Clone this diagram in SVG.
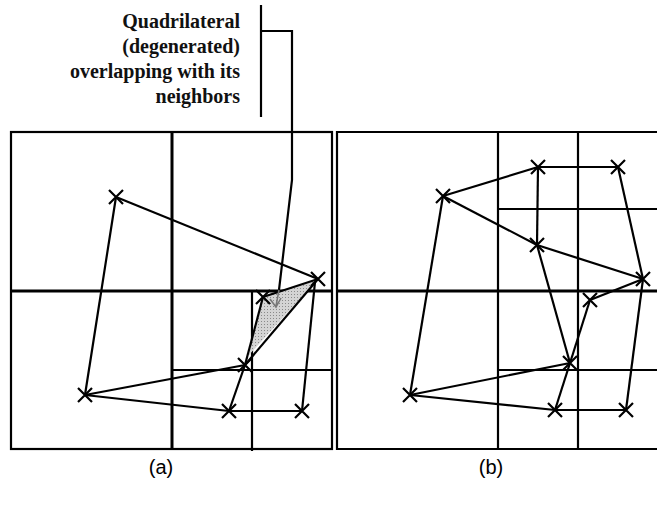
<svg xmlns="http://www.w3.org/2000/svg" width="657" height="507" viewBox="0 0 657 507">
<style>
.grid{fill:none;stroke:#000;stroke-width:2.2}
.thick{fill:none;stroke:#000;stroke-width:3}
.edge{fill:none;stroke:#000;stroke-width:2.2}
.mk{fill:none;stroke:#000;stroke-width:2.2}
.note{font-family:"Liberation Serif","Times New Roman",serif;font-weight:bold;font-size:20px;fill:#111;text-anchor:end}
.cap{font-family:"Liberation Sans",Arial,sans-serif;font-size:20px;fill:#000;text-anchor:middle}
</style>
<defs>
<path id="x" d="M-7,-7L7,7M-7,7L7,-7" class="mk"/>
<pattern id="dots" width="3" height="3" patternUnits="userSpaceOnUse">
<rect width="3" height="3" fill="#d4d4d4"/>
<rect width="1" height="1" fill="#8a8a8a"/>
</pattern>
</defs>
<rect width="657" height="507" fill="#fff"/>

<g id="panel-a-grid">
<rect x="11" y="132" width="321" height="317" class="grid"/>
<line x1="172" y1="132" x2="172" y2="449" class="thick"/>
<line x1="11" y1="291" x2="332" y2="291" class="thick"/>
<line x1="252" y1="291" x2="252" y2="451" class="grid"/>
<line x1="172" y1="370" x2="333" y2="370" class="grid"/>
</g>

<g id="panel-b-grid">
<path d="M657,132H337V449H657" class="grid"/>
<line x1="498" y1="132" x2="498" y2="449" class="grid"/>
<line x1="578" y1="132" x2="578" y2="449" class="grid"/>
<line x1="337" y1="291" x2="657" y2="291" class="thick"/>
<line x1="498" y1="209" x2="657" y2="209" class="grid"/>
<line x1="498" y1="370" x2="657" y2="370" class="grid"/>
</g>

<g id="shaded-quad">
<polygon points="262,296 316,281 249,355" fill="url(#dots)" stroke="none"/>
</g>

<g id="connectors">
<line x1="116" y1="197" x2="318" y2="279" class="edge"/>
<line x1="116" y1="197" x2="85" y2="395" class="edge"/>
<line x1="85" y1="395" x2="245" y2="365" class="edge"/>
<line x1="85" y1="395" x2="229" y2="411" class="edge"/>
<line x1="229" y1="411" x2="245" y2="365" class="edge"/>
<line x1="229" y1="411" x2="302" y2="411" class="edge"/>
<line x1="302" y1="411" x2="315" y2="282" class="edge"/>
<line x1="263" y1="297" x2="318" y2="279" class="edge"/>
<line x1="263" y1="297" x2="245" y2="365" class="edge"/>
<line x1="245" y1="365" x2="318" y2="279" class="edge"/>
<line x1="443" y1="196" x2="538" y2="167" class="edge"/>
<line x1="538" y1="167" x2="618" y2="167" class="edge"/>
<line x1="618" y1="167" x2="643" y2="279" class="edge"/>
<line x1="443" y1="196" x2="537" y2="245" class="edge"/>
<line x1="537" y1="245" x2="643" y2="279" class="edge"/>
<line x1="538" y1="167" x2="537" y2="245" class="edge"/>
<line x1="537" y1="245" x2="570" y2="363" class="edge"/>
<line x1="443" y1="196" x2="410" y2="395" class="edge"/>
<line x1="410" y1="395" x2="570" y2="363" class="edge"/>
<line x1="410" y1="395" x2="555" y2="410" class="edge"/>
<line x1="555" y1="410" x2="626" y2="410" class="edge"/>
<line x1="626" y1="410" x2="643" y2="279" class="edge"/>
<line x1="590" y1="300" x2="643" y2="279" class="edge"/>
<line x1="590" y1="300" x2="570" y2="363" class="edge"/>
<line x1="570" y1="363" x2="555" y2="410" class="edge"/>
<line x1="261" y1="5" x2="261" y2="117" class="edge"/>
<path d="M261,31H292V180L279,290" class="edge"/>
<path d="M279,290L276,306M270,299L276,307L281,298" fill="none" stroke="#777" stroke-width="1.5"/>
</g>

<g id="nodes-a">
<use href="#x" x="116" y="197"/>
<use href="#x" x="318" y="279"/>
<use href="#x" x="263" y="297"/>
<use href="#x" x="245" y="365"/>
<use href="#x" x="85" y="395"/>
<use href="#x" x="229" y="411"/>
<use href="#x" x="302" y="411"/>
</g>
<g id="nodes-b">
<use href="#x" x="538" y="167"/>
<use href="#x" x="618" y="167"/>
<use href="#x" x="443" y="196"/>
<use href="#x" x="537" y="245"/>
<use href="#x" x="643" y="279"/>
<use href="#x" x="590" y="300"/>
<use href="#x" x="570" y="363"/>
<use href="#x" x="410" y="395"/>
<use href="#x" x="555" y="410"/>
<use href="#x" x="626" y="410"/>
</g>

<g id="note">
<text class="note" x="240" y="28">Quadrilateral</text>
<text class="note" x="240" y="53">(degenerated)</text>
<text class="note" x="240" y="78">overlapping with its</text>
<text class="note" x="240" y="103">neighbors</text>
</g>

<g id="captions">
<text class="cap" x="161" y="474">(a)</text>
<text class="cap" x="491" y="474">(b)</text>
</g>
</svg>
